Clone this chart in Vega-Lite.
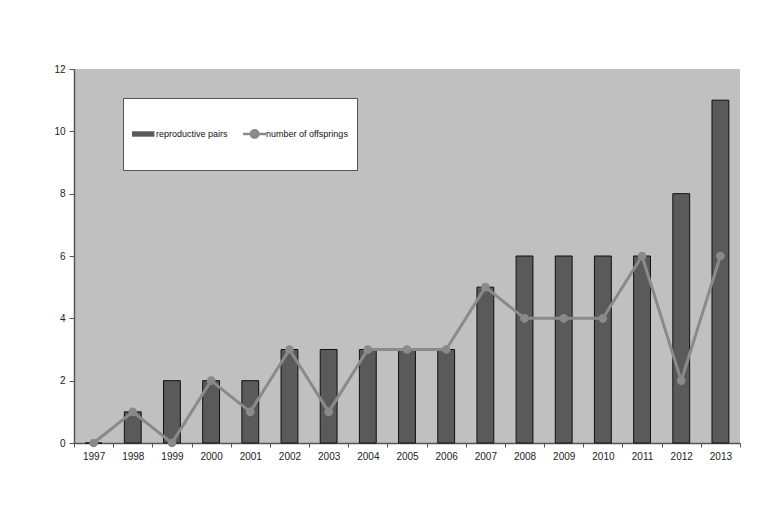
{
  "$schema": "https://vega.github.io/schema/vega-lite/v6.json",
  "autosize": "none",
  "width": 666,
  "height": 374,
  "padding": {"left": 74, "top": 69, "right": 33, "bottom": 86},
  "background": "white",
  "config": {
    "view": {"fill": "#c0c0c0", "stroke": null},
    "font": "Liberation Sans",
    "axis": {"labelFont": "Liberation Sans", "labelFontSize": 10, "labelColor": "#222", "domainColor": "#555", "domainWidth": 1.5, "tickColor": "#555", "grid": false}
  },
  "data": {
    "values": [
      {"year": "1997", "pairs": 0, "offspring": 0},
      {"year": "1998", "pairs": 1, "offspring": 1},
      {"year": "1999", "pairs": 2, "offspring": 0},
      {"year": "2000", "pairs": 2, "offspring": 2},
      {"year": "2001", "pairs": 2, "offspring": 1},
      {"year": "2002", "pairs": 3, "offspring": 3},
      {"year": "2003", "pairs": 3, "offspring": 1},
      {"year": "2004", "pairs": 3, "offspring": 3},
      {"year": "2005", "pairs": 3, "offspring": 3},
      {"year": "2006", "pairs": 3, "offspring": 3},
      {"year": "2007", "pairs": 5, "offspring": 5},
      {"year": "2008", "pairs": 6, "offspring": 4},
      {"year": "2009", "pairs": 6, "offspring": 4},
      {"year": "2010", "pairs": 6, "offspring": 4},
      {"year": "2011", "pairs": 6, "offspring": 6},
      {"year": "2012", "pairs": 8, "offspring": 2},
      {"year": "2013", "pairs": 11, "offspring": 6}
    ]
  },
  "encoding": {
    "x": {
      "field": "year", "type": "ordinal",
      "scale": {"paddingInner": 0, "paddingOuter": 0},
      "axis": {"title": null, "labelAngle": 0, "tickBand": "extent", "tickSize": 4, "labelPadding": 4}
    }
  },
  "layer": [
    {
      "mark": {"type": "bar", "width": {"band": 0.43}, "stroke": "#111", "strokeWidth": 1},
      "encoding": {
        "y": {
          "field": "pairs", "type": "quantitative",
          "scale": {"domain": [0, 12], "nice": false},
          "axis": {"title": null, "values": [0, 2, 4, 6, 8, 10, 12], "tickSize": 5, "labelPadding": 4}
        },
        "fill": {
          "datum": "reproductive pairs",
          "scale": {"domain": ["reproductive pairs", "number of offsprings"], "range": ["#5a5a5a", "white"]},
          "legend": {
            "title": null,
            "orient": "none",
            "legendX": 49,
            "legendY": 29,
            "direction": "horizontal",
            "fillColor": "white",
            "strokeColor": "#555",
            "padding": 9,
            "symbolType": "M-1,-1M-1,1M-1,-0.1H-0.17V0.1H-1Z",
            "symbolSize": 2916,
            "symbolStrokeWidth": 0,
            "symbolStrokeColor": "transparent",
            "symbolOpacity": 1,
            "labelOffset": -30,
            "columnPadding": 14,
            "labelFont": "Liberation Sans",
            "labelFontSize": 9,
            "labelColor": "#111"
          }
        }
      }
    },
    {
      "mark": {"type": "line", "strokeWidth": 3, "point": {"filled": true, "fill": "#8a8a8a", "size": 45}},
      "encoding": {
        "y": {"field": "offspring", "type": "quantitative"},
        "stroke": {
          "datum": "number of offsprings",
          "scale": {"domain": ["number of offsprings"], "range": ["#8a8a8a"]},
          "legend": {
            "title": null,
            "orient": "none",
            "legendX": 167.5,
            "legendY": 36.5,
            "padding": 0,
            "symbolType": "M-1,0H-0.13M-0.43,0A0.14,0.14,0,1,1,-0.71,0A0.14,0.14,0,1,1,-0.43,0",
            "symbolSize": 2916,
            "symbolStrokeWidth": 2.5,
            "symbolFillColor": "#8a8a8a",
            "symbolOpacity": 1,
            "labelExpr": "''",
            "labelFontSize": 9
          }
        }
      }
    }
  ]
}
